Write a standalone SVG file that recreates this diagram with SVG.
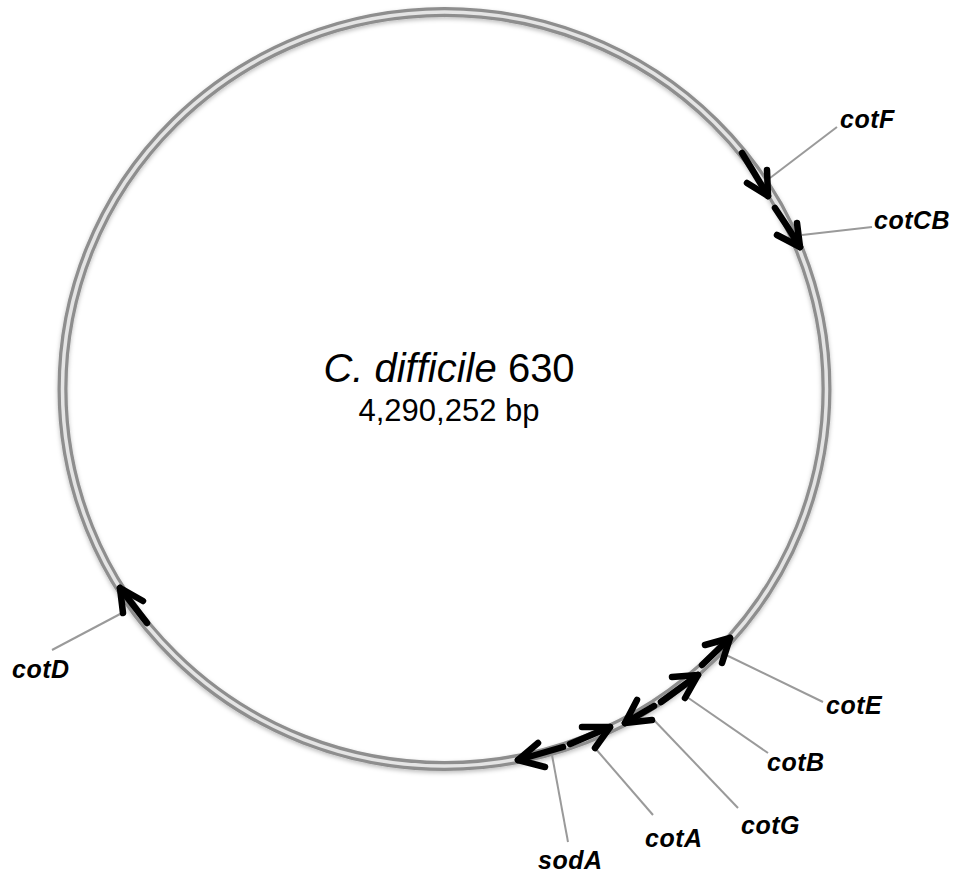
<svg xmlns="http://www.w3.org/2000/svg" width="955" height="875" viewBox="0 0 955 875">
<defs>
<style>
.ringo{fill:none;stroke:#8e8e8e;stroke-width:10}
.ringi{fill:none;stroke:#e4e4e4;stroke-width:3.5}
.arr{fill:none;stroke:#000;stroke-width:6.5;stroke-linecap:round;stroke-linejoin:round}
.lead{fill:none;stroke:#9a9a9a;stroke-width:2}
.lbl{font-family:"Liberation Sans",Arial,sans-serif;font-weight:bold;font-style:italic;font-size:25px;letter-spacing:0.5px;fill:#000}
.title{font-family:"Liberation Sans",Arial,sans-serif;fill:#000}
</style>
<filter id="sh" x="-10%" y="-10%" width="120%" height="120%">
<feDropShadow dx="0" dy="2" stdDeviation="2" flood-color="#000" flood-opacity="0.25"/>
</filter>
</defs>
<rect width="955" height="875" fill="#fff"/>
<g id="ring" filter="url(#sh)">
<ellipse class="ringo" cx="444.5" cy="389" rx="382" ry="377"/>
<ellipse class="ringi" cx="444.5" cy="389" rx="382" ry="377"/>
</g>
<g id="title">
<text class="title" x="449" y="382" font-size="40" text-anchor="middle"><tspan font-style="italic">C. difficile</tspan> 630</text>
<text class="title" x="449" y="421" font-size="31" text-anchor="middle">4,290,252 bp</text>
</g>
<g id="connectors">
<line class="lead" x1="770" y1="178" x2="837" y2="127"/>
<line class="lead" x1="802" y1="235" x2="872" y2="227"/>
<line class="lead" x1="122" y1="613" x2="52" y2="650"/>
<line class="lead" x1="722" y1="653" x2="823" y2="702"/>
<line class="lead" x1="687" y1="697" x2="768" y2="753"/>
<line class="lead" x1="652" y1="718" x2="738" y2="808"/>
<line class="lead" x1="595" y1="748" x2="653" y2="815"/>
<line class="lead" x1="552" y1="755" x2="568" y2="842"/>
</g>
<g id="cotF">
<path class="arr" d="M742 153 Q755 174 768 196"/>
<polyline class="arr" points="747,183 768,196 767,170"/>
<text class="lbl" x="840" y="128">cotF</text>
</g>
<g id="cotCB">
<path class="arr" d="M775 208 Q788 227 800 247"/>
<polyline class="arr" points="777,235 800,247 797,223"/>
<text class="lbl" x="874" y="229">cotCB</text>
</g>
<g id="cotD">
<path class="arr" d="M147 623 Q133 605 120 588"/>
<polyline class="arr" points="143,601 120,588 123,613"/>
<text class="lbl" x="12" y="678">cotD</text>
</g>
<g id="sodA">
<path class="arr" d="M563 747 L518 760"/>
<polyline class="arr" points="538,743 518,760 545,767"/>
<text class="lbl" x="538" y="869">sodA</text>
</g>
<g id="cotA">
<path class="arr" d="M570 744 L610 727"/>
<polyline class="arr" points="582,727 610,727 595,748"/>
<text class="lbl" x="645" y="847">cotA</text>
</g>
<g id="cotG">
<path class="arr" d="M654 706 L625 723"/>
<polyline class="arr" points="637,700 625,723 652,720"/>
<text class="lbl" x="741" y="834">cotG</text>
</g>
<g id="cotB">
<path class="arr" d="M661 702 L698 675"/>
<polyline class="arr" points="672,677 698,675 685,698"/>
<text class="lbl" x="767" y="771">cotB</text>
</g>
<g id="cotE">
<path class="arr" d="M702 665 L730 638"/>
<polyline class="arr" points="705,645 730,638 722,663"/>
<text class="lbl" x="826" y="714">cotE</text>
</g>
</svg>
